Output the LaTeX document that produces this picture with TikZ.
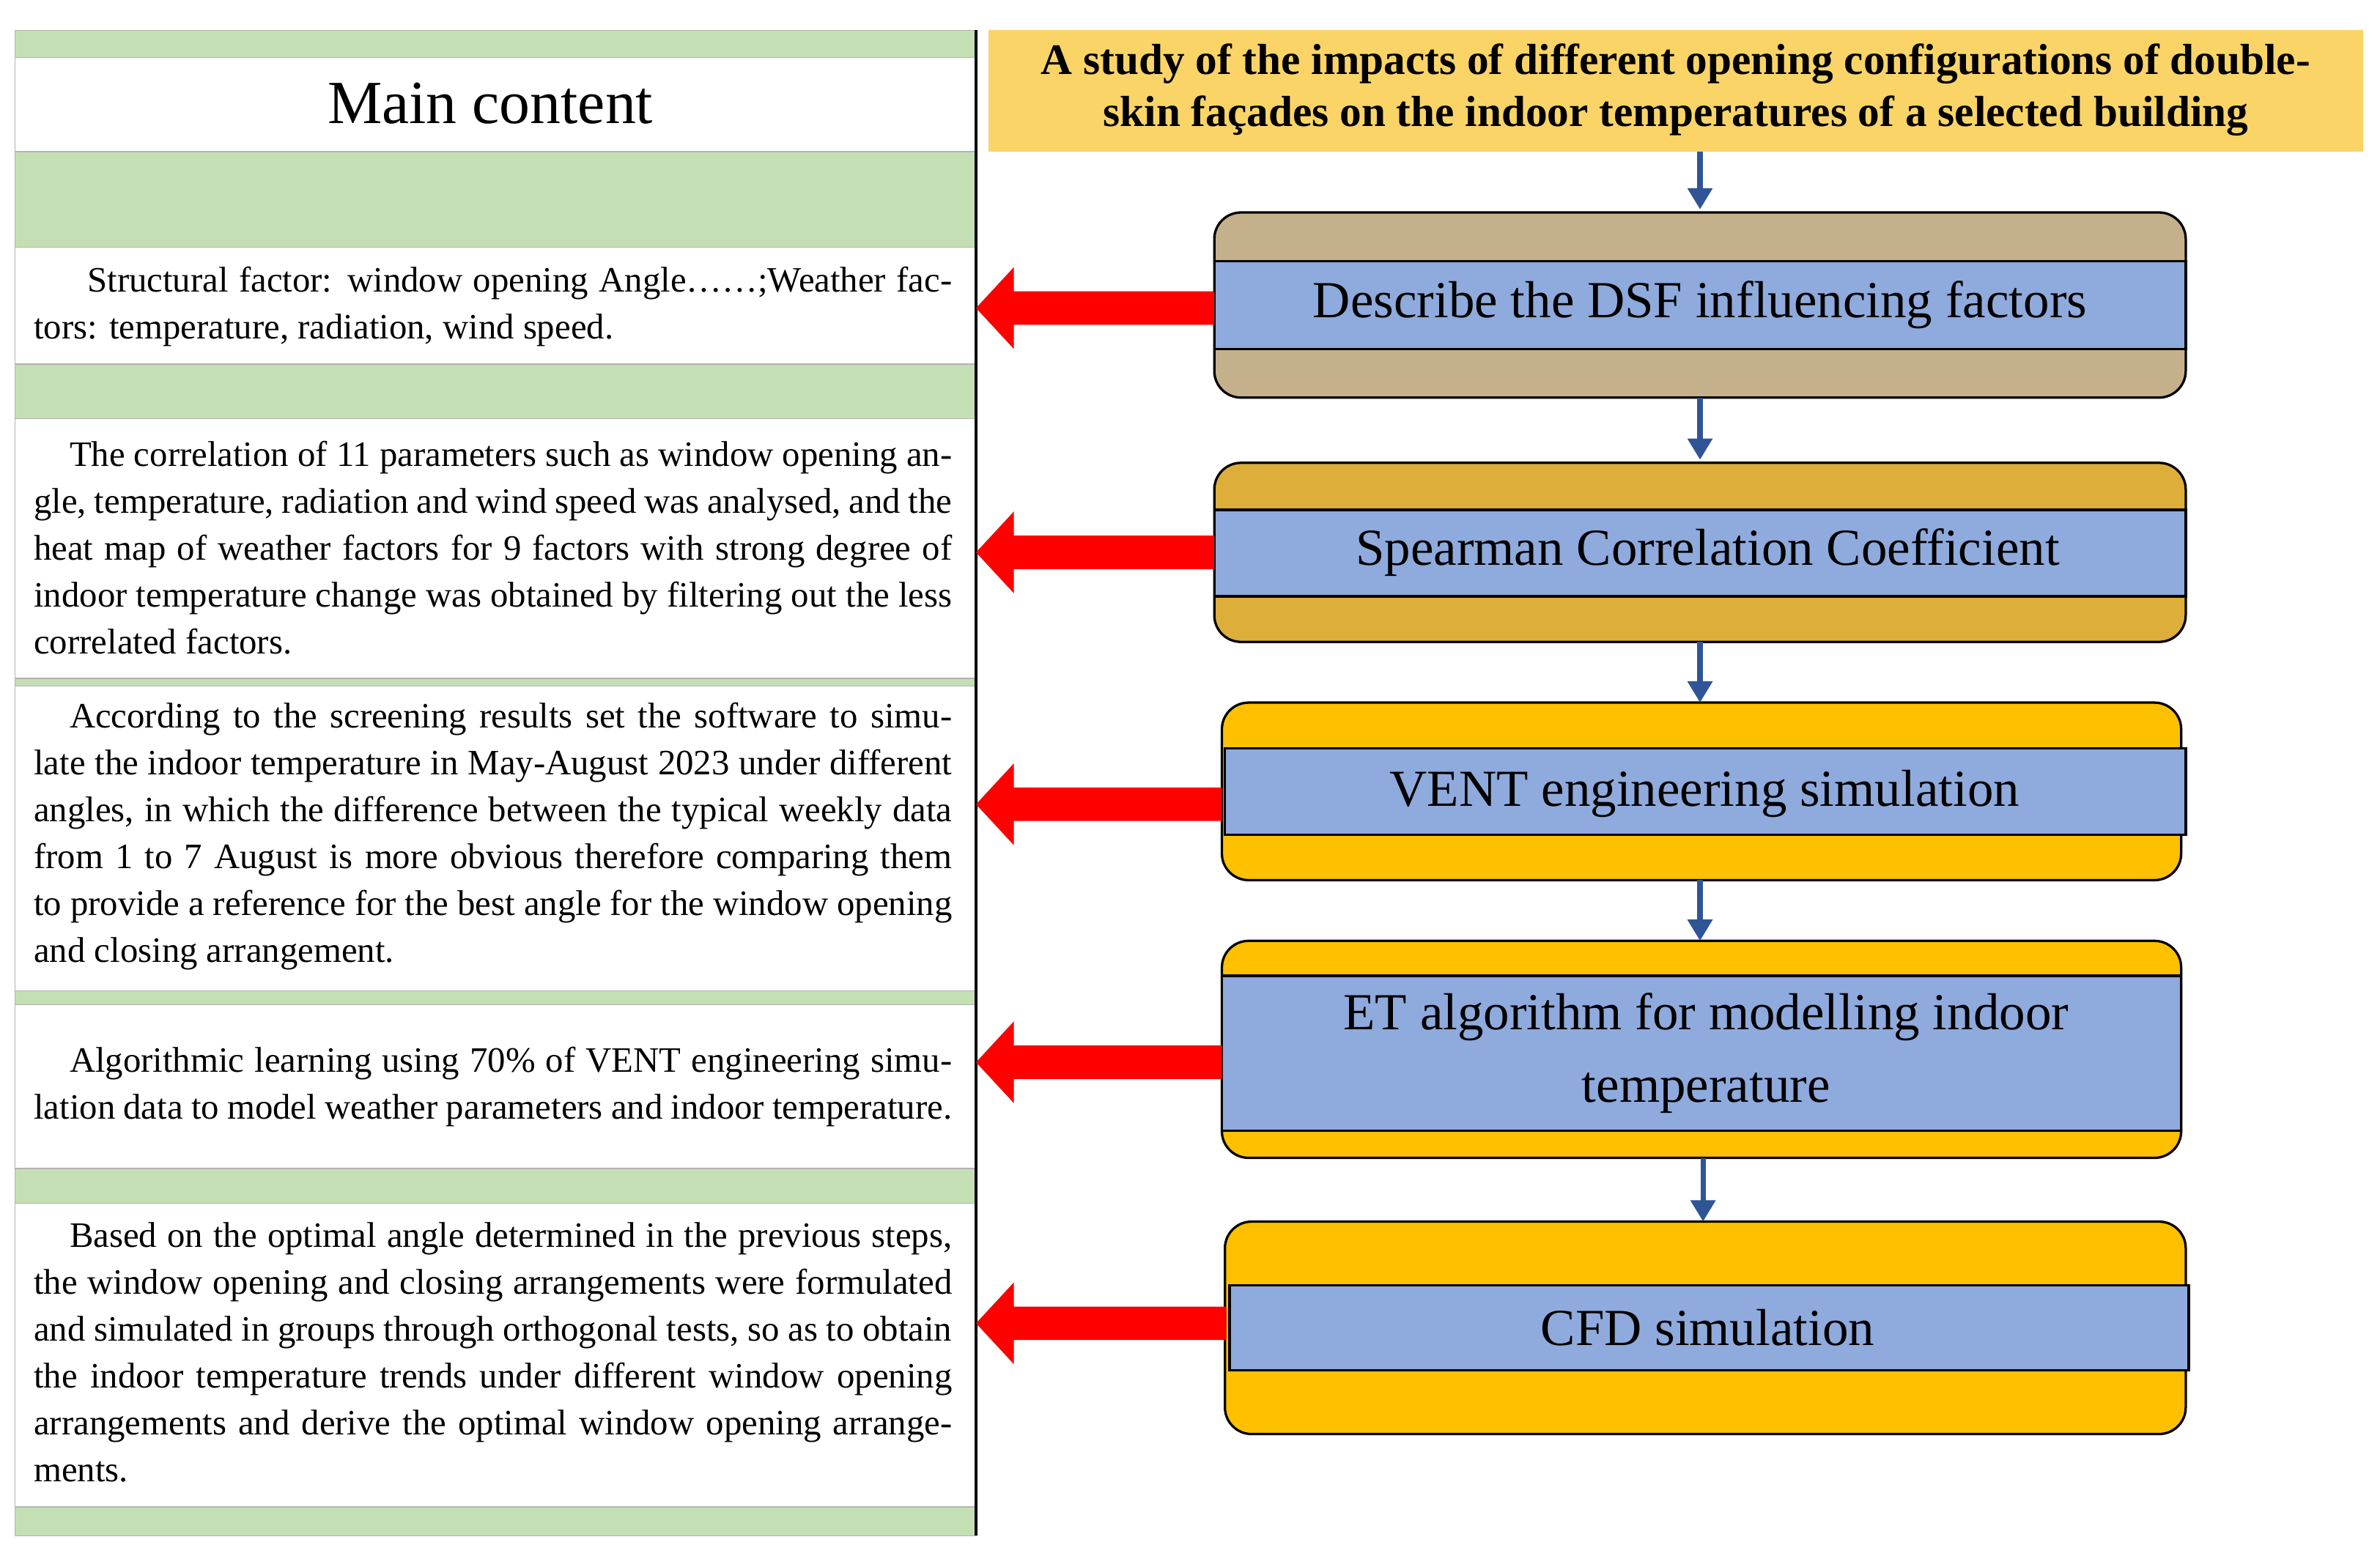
\documentclass[tikz,border=0pt]{standalone}
\usepackage{fontspec}
\setmainfont{Liberation Serif}
\usetikzlibrary{arrows.meta}
\definecolor{gband}{HTML}{C5DFB4}
\definecolor{ttl}{HTML}{FAD466}
\definecolor{tan}{HTML}{C4B18B}
\definecolor{gold}{HTML}{DDAE3A}
\definecolor{amber}{HTML}{FFC000}
\definecolor{bband}{HTML}{8FAADC}
\definecolor{darr}{HTML}{2F5597}
\tikzset{
 band/.style={fill=gband,draw=gray!60,line width=0.4pt},
 wcell/.style={fill=white,draw=gray!60,line width=0.4pt},
 outerbox/.style={draw=black,line width=0.9pt,rounded corners=10pt},
 innerbox/.style={draw=black,line width=0.9pt,fill=bband},
 lab/.style={font=\fontsize{19.5}{22}\selectfont,align=center},
 ltxt/.style={font=\fontsize{13.4}{17.6}\selectfont,align=justify,text width=12.1cm,anchor=west,inner sep=0pt},
 down/.style={draw=darr,line width=2pt,-{Triangle[length=8pt,width=9pt]}},
 red/.style={fill=red,draw=none}
}
\begin{document}
\begin{tikzpicture}[x=0.02cm,y=-0.02cm]
\useasboundingbox (0,0) rectangle (1568,1025);
% left column
\foreach \a/\b in {20/38,100/163,240/276,447/452,653/662,770/793,993/1012}
  \fill[band] (10,\a) rectangle (643,\b);
\foreach \a/\b in {38/100,163/240,276/447,452/653,662/770,793/993}
  \draw[wcell] (10,\a) rectangle (643,\b);
\draw[line width=1.2pt] (643,20) -- (643,1012);
\node[font=\fontsize{23}{26}\selectfont] (mc) at (323,68) {Main content};
\node[ltxt] (t1) at (22,202) {\hspace*{1.5em}Structural factor: window opening Angle\ldots\ldots;Weather factors: temperature, radiation, wind speed.};
\node[ltxt] (t2) at (22,361) {\hspace*{1em}The correlation of 11 parameters such as window opening angle, temperature, radiation and wind speed was analysed, and the heat map of weather factors for 9 factors with strong degree of indoor temperature change was obtained by filtering out the less correlated factors.};
\node[ltxt] (t3) at (22,551) {\hspace*{1em}According to the screening results set the software to simulate the indoor temperature in May-August 2023 under different angles, in which the difference between the typical weekly data from 1 to 7 August is more obvious therefore comparing them to provide a reference for the best angle for the window opening and closing arrangement.};
\node[ltxt] (t4) at (22,716) {\hspace*{1em}Algorithmic learning using 70\% of VENT engineering simulation data to model weather parameters and indoor temperature.};
\node[ltxt] (t5) at (22,891) {\hspace*{1em}Based on the optimal angle determined in the previous steps, the window opening and closing arrangements were formulated and simulated in groups through orthogonal tests, so as to obtain the indoor temperature trends under different window opening arrangements and derive the optimal window opening arrangements.};
% title
\fill[ttl] (651,20) rectangle (1557,100);
\node[font=\bfseries\fontsize{16.3}{19.5}\selectfont,align=center] (title) at (1104,59) {A study of the impacts of different opening configurations of double-\\skin façades on the indoor temperatures of a selected building};
% boxes
\draw[outerbox,fill=tan] (800,140) rectangle (1440,262);
\draw[innerbox] (800,172) rectangle (1440,230);
\node[lab] (b1) at (1120,201) {Describe the DSF influencing factors};
\draw[outerbox,fill=gold] (800,305) rectangle (1440,423);
\draw[innerbox] (800,336) rectangle (1440,393);
\node[lab] (b2) at (1125,364) {Spearman Correlation Coefficient};
\draw[outerbox,fill=amber] (805,463) rectangle (1437,580);
\draw[innerbox] (807,493) rectangle (1440,550);
\node[lab] (b3) at (1123,523) {VENT engineering simulation};
\draw[outerbox,fill=amber] (805,620) rectangle (1437,763);
\draw[innerbox] (805,643) rectangle (1437,745);
\node[lab,font=\fontsize{19.5}{27}\selectfont] (b4) at (1124,694) {ET algorithm for modelling indoor\\temperature};
\draw[outerbox,fill=amber] (807,805) rectangle (1440,945);
\draw[innerbox] (810,847) rectangle (1442,903);
\node[lab] (b5) at (1125,875) {CFD simulation};
% down arrows
\coordinate (d0a) at (1120,100); \coordinate (d0b) at (1120,138);
\coordinate (d1a) at (1120,262); \coordinate (d1b) at (1120,303);
\coordinate (d2a) at (1120,423); \coordinate (d2b) at (1120,463);
\coordinate (d3a) at (1120,580); \coordinate (d3b) at (1120,620);
\coordinate (d4a) at (1122,763); \coordinate (d4b) at (1122,805);
\foreach \i in {0,...,4} \draw[down] (d\i a) -- (d\i b);
% red arrows
\foreach \y/\xs in {203/800,364/800,530/805,700/805,872/808}
  \fill[red] (\xs,\y-11) -- (668,\y-11) -- (668,\y-27) -- (643,\y) -- (668,\y+27) -- (668,\y+11) -- (\xs,\y+11) -- cycle;
\end{tikzpicture}
\end{document}
